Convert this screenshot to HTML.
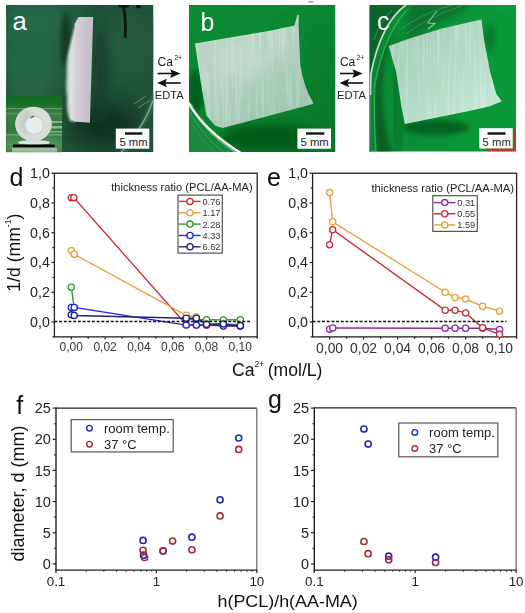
<!DOCTYPE html>
<html><head><meta charset="utf-8"><style>
html,body{margin:0;padding:0;background:#fff;}
body{width:525px;height:613px;overflow:hidden;}
svg{display:block;font-family:"Liberation Sans", sans-serif;filter:blur(0.35px);}
</style></head><body>
<svg width="525" height="613" viewBox="0 0 525 613">
<defs>
<clipPath id="cpa"><rect x="6" y="5" width="147.5" height="147"/></clipPath>
<clipPath id="cpb"><rect x="189" y="5" width="146.5" height="147"/></clipPath>
<clipPath id="cpc"><rect x="369.5" y="5" width="146.5" height="146.5"/></clipPath>
<clipPath id="cpi"><rect x="6.3" y="96" width="56" height="56.3"/></clipPath>
<filter id="bl05" x="-20%" y="-20%" width="140%" height="140%"><feGaussianBlur stdDeviation="0.5"/></filter>
<filter id="bl1" x="-20%" y="-20%" width="140%" height="140%"><feGaussianBlur stdDeviation="0.8"/></filter>
<filter id="bl2" x="-30%" y="-30%" width="160%" height="160%"><feGaussianBlur stdDeviation="2.5"/></filter>
<filter id="bl4" x="-50%" y="-50%" width="200%" height="200%"><feGaussianBlur stdDeviation="5"/></filter>
<filter id="bl8" x="-50%" y="-50%" width="200%" height="200%"><feGaussianBlur stdDeviation="9"/></filter>
<linearGradient id="ga" x1="0" y1="0" x2="1" y2="0">
 <stop offset="0" stop-color="#2a6c4a"/><stop offset="0.35" stop-color="#266244"/><stop offset="0.6" stop-color="#1f4e38"/><stop offset="1" stop-color="#26573f"/>
</linearGradient>
<linearGradient id="gslab" x1="0" y1="0" x2="1" y2="0">
 <stop offset="0" stop-color="#dad4da"/><stop offset="0.4" stop-color="#d0c8d2"/><stop offset="1" stop-color="#c2bac4"/>
</linearGradient>
<linearGradient id="gins" x1="0" y1="0" x2="0" y2="1">
 <stop offset="0" stop-color="#146a22"/><stop offset="0.16" stop-color="#187026"/><stop offset="0.3" stop-color="#3c7e48"/><stop offset="0.6" stop-color="#347a40"/><stop offset="0.85" stop-color="#4e9058"/><stop offset="1" stop-color="#42844a"/>
</linearGradient>
<linearGradient id="gb" x1="0" y1="0" x2="1" y2="1">
 <stop offset="0" stop-color="#0c8c34"/><stop offset="0.6" stop-color="#0a8430"/><stop offset="1" stop-color="#097428"/>
</linearGradient>
<linearGradient id="gsb" x1="0" y1="0" x2="0.6" y2="1">
 <stop offset="0" stop-color="#bcd8ca"/><stop offset="0.5" stop-color="#b4d2c2"/><stop offset="1" stop-color="#9cc6ae"/>
</linearGradient>
<linearGradient id="gc" x1="0" y1="0" x2="1" y2="0">
 <stop offset="0" stop-color="#0a8a36"/><stop offset="1" stop-color="#0a9a3a"/>
</linearGradient>
<linearGradient id="gsc" x1="0" y1="0" x2="1" y2="1">
 <stop offset="0" stop-color="#9ecab4"/><stop offset="0.55" stop-color="#b6dcc8"/><stop offset="1" stop-color="#cae8d8"/>
</linearGradient>
<filter id="fib" x="0" y="0" width="100%" height="100%">
 <feTurbulence type="fractalNoise" baseFrequency="0.35 0.015" numOctaves="2" seed="3" result="n"/>
 <feColorMatrix in="n" type="matrix" values="0 0 0 0 0.92  0 0 0 0 0.97  0 0 0 0 0.94  1.6 0 0 0 -0.75" result="w"/>
 <feComposite in="w" in2="SourceGraphic" operator="in"/>
</filter>
</defs>
<!-- photo a -->
<g clip-path="url(#cpa)">
 <rect x="6" y="5" width="147.5" height="147" fill="#1f5339"/>
 <ellipse cx="30" cy="55" rx="32" ry="60" fill="#26684a" opacity="0.9" filter="url(#bl8)"/>
 <ellipse cx="45" cy="20" rx="40" ry="18" fill="#27694a" opacity="0.8" filter="url(#bl8)"/>
 <ellipse cx="130" cy="45" rx="25" ry="35" fill="#255c42" opacity="0.8" filter="url(#bl8)"/>
 <ellipse cx="105" cy="125" rx="35" ry="22" fill="#10291b" opacity="0.8" filter="url(#bl8)"/>
 <ellipse cx="66" cy="40" rx="5" ry="28" fill="#143424" opacity="0.9" filter="url(#bl2)"/>
 <ellipse cx="100" cy="75" rx="7" ry="50" fill="#173d2c" opacity="0.8" filter="url(#bl4)"/>
 <path d="M154,95 Q148,125 120,156" stroke="#2e7050" stroke-width="6" fill="none" opacity="0.7" filter="url(#bl1)"/>
 <path d="M153,100 Q146,124 118,156" stroke="#9cb8a8" stroke-width="1.3" fill="none" opacity="0.8"/>
 <path d="M134,104 L146,96 M138,108 L150,100" stroke="#b0c8b8" stroke-width="0.9" fill="none" opacity="0.5"/>
 <path d="M66.5,75 Q66,58 69,48 L75,24 L74.5,122 L70,121 Q66,112 67,98 Q65.5,88 66.5,75 Z" fill="#ccd6d0" opacity="0.95" filter="url(#bl1)"/>
 <path d="M69.5,55 L75,28 L75,121 L70.5,119 Q68.5,90 69.5,55 Z" fill="#dde2de" opacity="0.9" filter="url(#bl05)"/>
 <polygon points="74.6,23.7 78.5,16.9 93.2,16.9 89.9,122.7 73.5,121.5" fill="url(#gslab)" filter="url(#bl05)"/>
 <path d="M119.5,6 L128,6 M123.6,6.5 Q126,20 125.2,37" stroke="#0c1410" stroke-width="2.8" fill="none" stroke-linecap="round" filter="url(#bl05)"/>
 <ellipse cx="138.5" cy="6.5" rx="2.5" ry="2" fill="#0c1410"/>
 <text x="12.4" y="30.1" font-size="25.5" fill="#fff">a</text>
</g>
<!-- inset -->
<g clip-path="url(#cpi)">
 <rect x="6" y="95" width="57" height="58" fill="url(#gins)"/>
 <g opacity="0.55">
 <rect x="6" y="108" width="57" height="1.2" fill="#8ab890"/>
 <rect x="6" y="113" width="57" height="1.5" fill="#6aa070"/>
 <rect x="40" y="121" width="23" height="2" fill="#c0e0c0"/>
 <rect x="40" y="126" width="23" height="2.5" fill="#d0ecd0"/>
 <rect x="40" y="131" width="23" height="1.6" fill="#b0d8b0"/>
 <rect x="6" y="134" width="57" height="1.6" fill="#90c090"/>
 <rect x="12" y="147.8" width="45" height="4" fill="#e0ece0"/>
 </g>
 <ellipse cx="34" cy="142.5" rx="16" ry="2.5" fill="#d8e4dc" filter="url(#bl05)"/>
 <ellipse cx="33.5" cy="124" rx="18.4" ry="17.2" fill="#d6ded8" filter="url(#bl05)"/>
 <ellipse cx="26" cy="122" rx="7" ry="12" fill="#b8c4bc" opacity="0.6" filter="url(#bl2)"/>
 <ellipse cx="34.2" cy="125.3" rx="9.4" ry="9.2" fill="#e8ece8" stroke="#c4ccc6" stroke-width="1" filter="url(#bl05)"/>
 <path d="M30.5,118 L34,116" stroke="#4a5a50" stroke-width="1.3" fill="none" filter="url(#bl05)"/>
 <rect x="12.9" y="144.5" width="41.9" height="2.7" fill="#080808"/>
 <rect x="62" y="95" width="2" height="58" fill="#143a24"/>
</g>
<rect x="115.8" y="128.6" width="33.5" height="20.1" fill="#fff"/>
<rect x="125" y="132.3" width="17.3" height="2.4" fill="#111"/>
<text x="119.4" y="145.8" font-size="10.3" fill="#222" textLength="28.3" lengthAdjust="spacingAndGlyphs">5 mm</text>
<rect x="308.6" y="1.2" width="4.7" height="1.3" fill="#8a8a8a"/>
<!-- photo b -->
<g clip-path="url(#cpb)">
 <rect x="189" y="5" width="146.5" height="147" fill="url(#gb)"/>
 <ellipse cx="270" cy="138" rx="50" ry="14" fill="#055218" opacity="0.8" filter="url(#bl4)"/>
 <ellipse cx="196" cy="92" rx="8" ry="22" fill="#065a1e" opacity="0.85" filter="url(#bl2)"/>
 <ellipse cx="318" cy="70" rx="8" ry="40" fill="#087a28" opacity="0.6" filter="url(#bl4)"/>
 <path d="M195,43.6 L230,37.5 L270,30.7 L294.6,25.6 L297.2,15 L298.8,14.7 L298.6,27 L300.3,65 Q304,88 312.7,101.7 L313,104 L270,115.5 L222.4,128 L215,125.5 L206.4,115.4 Q200,80 195,43.6 Z" fill="url(#gsb)" filter="url(#bl05)"/>
 <path d="M195,43.6 L230,37.5 L270,30.7 L294.6,25.6 L298.6,27 L300.3,65 Q304,88 312.7,101.7 L313,104 L270,115.5 L222.4,128 L215,125.5 L206.4,115.4 Q200,80 195,43.6 Z" fill="#000" filter="url(#fib)" opacity="0.5"/>
 <ellipse cx="240" cy="60" rx="25" ry="18" fill="#c6e0d2" opacity="0.5" filter="url(#bl4)"/>
 <path d="M186,92 L186,160 L250,160 Q200.5,128.4 186.5,99 Z" fill="#178a3c"/>
 <path d="M186,104 Q197,132 230,158" stroke="#5aa878" stroke-width="1" fill="none" opacity="0.6"/>
 <path d="M186,112 Q194,135 222,158" stroke="#4a9a68" stroke-width="1" fill="none" opacity="0.5"/>
 <path d="M190,104 Q204,130 236,152" stroke="#9ab8a4" stroke-width="3" fill="none" opacity="0.7"/>
 <path d="M186.5,99 Q200.5,128.4 244,155" stroke="#f4f8f4" stroke-width="2.2" fill="none"/>
 <text x="200.4" y="30.8" font-size="25" fill="#fff">b</text>
</g>
<rect x="297.4" y="128.6" width="33.6" height="20.2" fill="#fff"/>
<rect x="306" y="132.3" width="18.3" height="2.4" fill="#111"/>
<text x="300.5" y="145.8" font-size="10.3" fill="#222" textLength="28.3" lengthAdjust="spacingAndGlyphs">5 mm</text>
<!-- photo c -->
<g clip-path="url(#cpc)">
 <rect x="369.5" y="5" width="146.5" height="147" fill="url(#gc)"/>
 <path d="M369,5 L406,5 Q381,22.5 371,72 Q370,110 372,155 L369,155 Z" fill="#0b642a"/>
 <path d="M395,30 Q380,60 382,100 Q384,130 392,155 L376,155 Q374,110 376,80 Q380,50 395,30 Z" fill="#0a5a24" opacity="0.9" filter="url(#bl2)"/>
 <path d="M400,40 Q392,90 398,150" stroke="#0b6a2a" stroke-width="14" fill="none" opacity="0.6" filter="url(#bl4)"/>
 <path d="M406.5,4.5 Q381,22.5 371,73.4 Q370.4,85 370.6,95" stroke="#c8d6cc" stroke-width="1.7" fill="none"/>
 <path d="M370.6,95 Q370,120 371.5,155" stroke="#5a9a70" stroke-width="1.2" fill="none" opacity="0.6"/>
 <path d="M412.8,4.5 Q385,28 374.5,86 Q373.5,120 376,155" stroke="#22b04c" stroke-width="1.6" fill="none"/>
 <path d="M392,10 Q380,22 374,40" stroke="#6ab088" stroke-width="1" fill="none" opacity="0.5"/>
 <path d="M408,4 L472,4 Q460,16 440,22 Q420,30 408,42 Z" fill="#0b6e2e" opacity="0.8" filter="url(#bl2)"/>
 <path d="M400,30 Q420,14 452,5 M406,34 Q430,16 462,6" stroke="#7ab898" stroke-width="0.8" fill="none" opacity="0.45"/>
 <ellipse cx="490" cy="38" rx="5" ry="14" fill="#076a26" opacity="0.7" filter="url(#bl2)"/>
 <path d="M437,11 Q431,18 428,23 L435,23.5 L428,29" stroke="#d8e4dc" stroke-width="1.1" fill="none" opacity="0.65" filter="url(#bl05)"/>
 <ellipse cx="436" cy="127.5" rx="33" ry="7.5" fill="#065c1e" opacity="0.85" filter="url(#bl2)"/>
 <path d="M388.7,45.9 L409.7,38.5 L441.9,28.6 L479,19.9 L481.5,19.4 L484,39.7 L490.2,71.9 L496.4,94.2 L501.3,100.4 L501.3,101.6 L489,106.6 L466.7,111.5 L441.9,116.5 L404.8,123.9 L401,104.1 L396.1,71.9 Z" fill="url(#gsc)" filter="url(#bl05)"/>
 <path d="M388.7,45.9 L409.7,38.5 L441.9,28.6 L479,19.9 L481.5,19.4 L484,39.7 L490.2,71.9 L496.4,94.2 L501.3,100.4 L501.3,101.6 L489,106.6 L466.7,111.5 L441.9,116.5 L404.8,123.9 L401,104.1 L396.1,71.9 Z" fill="#000" filter="url(#fib)" opacity="0.5"/>
 <text x="376.9" y="29.8" font-size="25" fill="#fff">c</text>
</g>
<rect x="479.3" y="128.2" width="33.4" height="20.4" fill="#fff"/>
<rect x="487" y="148.6" width="29" height="2.6" fill="#b83a30"/>
<rect x="513" y="128.6" width="3" height="22" fill="#b83a30"/>
<rect x="487.5" y="132.3" width="18" height="2.4" fill="#111"/>
<text x="482.6" y="146" font-size="10.3" fill="#222" textLength="28.3" lengthAdjust="spacingAndGlyphs">5 mm</text>

<text x="157.6" y="66.2" font-size="12" fill="#222">Ca<tspan font-size="7" dx="1.2" dy="-6.2">2+</tspan></text>
<line x1="157.6" y1="73.5" x2="174.4" y2="73.5" stroke="#111" stroke-width="1.6"/>
<polygon points="170.0,69.3 180.4,73.5 170.0,77.9 172.0,73.5" fill="#111"/>
<line x1="164.4" y1="83" x2="180.70000000000002" y2="83" stroke="#111" stroke-width="1.6"/>
<polygon points="167.1,78.7 157.20000000000002,83 167.1,87.3 165.1,83" fill="#111"/>
<text x="154.8" y="98.9" font-size="10.8" fill="#222" textLength="28.8" lengthAdjust="spacingAndGlyphs">EDTA</text>
<text x="339.9" y="66.2" font-size="12" fill="#222">Ca<tspan font-size="7" dx="1.2" dy="-6.2">2+</tspan></text>
<line x1="339.9" y1="73.5" x2="356.7" y2="73.5" stroke="#111" stroke-width="1.6"/>
<polygon points="352.3,69.3 362.7,73.5 352.3,77.9 354.3,73.5" fill="#111"/>
<line x1="346.7" y1="83" x2="363.0" y2="83" stroke="#111" stroke-width="1.6"/>
<polygon points="349.4,78.7 339.5,83 349.4,87.3 347.4,83" fill="#111"/>
<text x="337.09999999999997" y="98.9" font-size="10.8" fill="#222" textLength="28.8" lengthAdjust="spacingAndGlyphs">EDTA</text>
<rect x="54.40" y="173.25" width="202.80" height="163.62" fill="none" stroke="#222" stroke-width="1.3"/>
<line x1="52.40" y1="336.88" x2="54.40" y2="336.88" stroke="#222" stroke-width="1.2"/>
<line x1="51.40" y1="322.00" x2="54.40" y2="322.00" stroke="#222" stroke-width="1.2"/>
<text x="49.80" y="326.80" font-size="14.2" text-anchor="end" fill="#222">0,0</text>
<line x1="52.40" y1="307.12" x2="54.40" y2="307.12" stroke="#222" stroke-width="1.2"/>
<line x1="51.40" y1="292.25" x2="54.40" y2="292.25" stroke="#222" stroke-width="1.2"/>
<text x="49.80" y="297.05" font-size="14.2" text-anchor="end" fill="#222">0,2</text>
<line x1="52.40" y1="277.38" x2="54.40" y2="277.38" stroke="#222" stroke-width="1.2"/>
<line x1="51.40" y1="262.50" x2="54.40" y2="262.50" stroke="#222" stroke-width="1.2"/>
<text x="49.80" y="267.30" font-size="14.2" text-anchor="end" fill="#222">0,4</text>
<line x1="52.40" y1="247.62" x2="54.40" y2="247.62" stroke="#222" stroke-width="1.2"/>
<line x1="51.40" y1="232.75" x2="54.40" y2="232.75" stroke="#222" stroke-width="1.2"/>
<text x="49.80" y="237.55" font-size="14.2" text-anchor="end" fill="#222">0,6</text>
<line x1="52.40" y1="217.88" x2="54.40" y2="217.88" stroke="#222" stroke-width="1.2"/>
<line x1="51.40" y1="203.00" x2="54.40" y2="203.00" stroke="#222" stroke-width="1.2"/>
<text x="49.80" y="207.80" font-size="14.2" text-anchor="end" fill="#222">0,8</text>
<line x1="52.40" y1="188.12" x2="54.40" y2="188.12" stroke="#222" stroke-width="1.2"/>
<line x1="51.40" y1="173.25" x2="54.40" y2="173.25" stroke="#222" stroke-width="1.2"/>
<text x="49.80" y="178.05" font-size="14.2" text-anchor="end" fill="#222">1,0</text>
<line x1="71.30" y1="336.88" x2="71.30" y2="339.48" stroke="#222" stroke-width="1.2"/>
<text x="71.30" y="351.48" font-size="12" text-anchor="middle" fill="#333">0,00</text>
<line x1="88.20" y1="336.88" x2="88.20" y2="338.68" stroke="#222" stroke-width="1.2"/>
<line x1="105.10" y1="336.88" x2="105.10" y2="339.48" stroke="#222" stroke-width="1.2"/>
<text x="105.10" y="351.48" font-size="12" text-anchor="middle" fill="#333">0,02</text>
<line x1="122.00" y1="336.88" x2="122.00" y2="338.68" stroke="#222" stroke-width="1.2"/>
<line x1="138.90" y1="336.88" x2="138.90" y2="339.48" stroke="#222" stroke-width="1.2"/>
<text x="138.90" y="351.48" font-size="12" text-anchor="middle" fill="#333">0,04</text>
<line x1="155.80" y1="336.88" x2="155.80" y2="338.68" stroke="#222" stroke-width="1.2"/>
<line x1="172.70" y1="336.88" x2="172.70" y2="339.48" stroke="#222" stroke-width="1.2"/>
<text x="172.70" y="351.48" font-size="12" text-anchor="middle" fill="#333">0,06</text>
<line x1="189.60" y1="336.88" x2="189.60" y2="338.68" stroke="#222" stroke-width="1.2"/>
<line x1="206.50" y1="336.88" x2="206.50" y2="339.48" stroke="#222" stroke-width="1.2"/>
<text x="206.50" y="351.48" font-size="12" text-anchor="middle" fill="#333">0,08</text>
<line x1="223.40" y1="336.88" x2="223.40" y2="338.68" stroke="#222" stroke-width="1.2"/>
<line x1="240.30" y1="336.88" x2="240.30" y2="339.48" stroke="#222" stroke-width="1.2"/>
<text x="240.30" y="351.48" font-size="12" text-anchor="middle" fill="#333">0,10</text>
<line x1="257.20" y1="336.88" x2="257.20" y2="338.68" stroke="#222" stroke-width="1.2"/>
<polyline points="71.30,197.65 73.83,197.65 186.22,324.68 196.36,324.98 206.50,325.27 223.40,325.72 240.30,325.72" fill="none" stroke="#cc2c36" stroke-width="1.4"/>
<circle cx="71.30" cy="197.65" r="3.1" fill="#fff" stroke="#cc2c36" stroke-width="1.3"/>
<circle cx="73.83" cy="197.65" r="3.1" fill="#fff" stroke="#cc2c36" stroke-width="1.3"/>
<circle cx="186.22" cy="324.68" r="3.1" fill="#fff" stroke="#cc2c36" stroke-width="1.3"/>
<circle cx="196.36" cy="324.98" r="3.1" fill="#fff" stroke="#cc2c36" stroke-width="1.3"/>
<circle cx="206.50" cy="325.27" r="3.1" fill="#fff" stroke="#cc2c36" stroke-width="1.3"/>
<circle cx="223.40" cy="325.72" r="3.1" fill="#fff" stroke="#cc2c36" stroke-width="1.3"/>
<circle cx="240.30" cy="325.72" r="3.1" fill="#fff" stroke="#cc2c36" stroke-width="1.3"/>
<polyline points="71.30,250.60 74.17,254.32 186.22,315.31 196.36,316.79 206.50,324.23 223.40,324.23 240.30,324.23" fill="none" stroke="#e8a03a" stroke-width="1.4"/>
<circle cx="71.30" cy="250.60" r="3.1" fill="#fff" stroke="#e8a03a" stroke-width="1.3"/>
<circle cx="74.17" cy="254.32" r="3.1" fill="#fff" stroke="#e8a03a" stroke-width="1.3"/>
<circle cx="186.22" cy="315.31" r="3.1" fill="#fff" stroke="#e8a03a" stroke-width="1.3"/>
<circle cx="196.36" cy="316.79" r="3.1" fill="#fff" stroke="#e8a03a" stroke-width="1.3"/>
<circle cx="206.50" cy="324.23" r="3.1" fill="#fff" stroke="#e8a03a" stroke-width="1.3"/>
<circle cx="223.40" cy="324.23" r="3.1" fill="#fff" stroke="#e8a03a" stroke-width="1.3"/>
<circle cx="240.30" cy="324.23" r="3.1" fill="#fff" stroke="#e8a03a" stroke-width="1.3"/>
<polyline points="71.30,287.19 74.17,307.42" fill="none" stroke="#2c9a2c" stroke-width="1.4"/>
<circle cx="71.30" cy="287.19" r="3.1" fill="#fff" stroke="#2c9a2c" stroke-width="1.3"/>
<circle cx="74.17" cy="307.42" r="3.1" fill="#fff" stroke="#2c9a2c" stroke-width="1.3"/>
<polyline points="186.22,319.02 196.36,319.62 206.50,319.77 223.40,319.92 240.30,319.77" fill="none" stroke="#2c9a2c" stroke-width="1.4"/>
<circle cx="186.22" cy="319.02" r="3.1" fill="#fff" stroke="#2c9a2c" stroke-width="1.3"/>
<circle cx="196.36" cy="319.62" r="3.1" fill="#fff" stroke="#2c9a2c" stroke-width="1.3"/>
<circle cx="206.50" cy="319.77" r="3.1" fill="#fff" stroke="#2c9a2c" stroke-width="1.3"/>
<circle cx="223.40" cy="319.92" r="3.1" fill="#fff" stroke="#2c9a2c" stroke-width="1.3"/>
<circle cx="240.30" cy="319.77" r="3.1" fill="#fff" stroke="#2c9a2c" stroke-width="1.3"/>
<polyline points="71.30,307.42 74.17,307.42 186.22,325.12 196.36,325.12 206.50,324.53 223.40,326.02 240.30,326.02" fill="none" stroke="#2828d0" stroke-width="1.4"/>
<circle cx="71.30" cy="307.42" r="3.1" fill="#fff" stroke="#2828d0" stroke-width="1.3"/>
<circle cx="74.17" cy="307.42" r="3.1" fill="#fff" stroke="#2828d0" stroke-width="1.3"/>
<circle cx="186.22" cy="325.12" r="3.1" fill="#fff" stroke="#2828d0" stroke-width="1.3"/>
<circle cx="196.36" cy="325.12" r="3.1" fill="#fff" stroke="#2828d0" stroke-width="1.3"/>
<circle cx="206.50" cy="324.53" r="3.1" fill="#fff" stroke="#2828d0" stroke-width="1.3"/>
<circle cx="223.40" cy="326.02" r="3.1" fill="#fff" stroke="#2828d0" stroke-width="1.3"/>
<circle cx="240.30" cy="326.02" r="3.1" fill="#fff" stroke="#2828d0" stroke-width="1.3"/>
<polyline points="71.30,314.86 74.17,315.45 186.22,318.28 196.36,318.28 206.50,324.23 223.40,323.93 240.30,325.72" fill="none" stroke="#22227a" stroke-width="1.4"/>
<circle cx="71.30" cy="314.86" r="3.1" fill="#fff" stroke="#22227a" stroke-width="1.3"/>
<circle cx="74.17" cy="315.45" r="3.1" fill="#fff" stroke="#22227a" stroke-width="1.3"/>
<circle cx="186.22" cy="318.28" r="3.1" fill="#fff" stroke="#22227a" stroke-width="1.3"/>
<circle cx="196.36" cy="318.28" r="3.1" fill="#fff" stroke="#22227a" stroke-width="1.3"/>
<circle cx="206.50" cy="324.23" r="3.1" fill="#fff" stroke="#22227a" stroke-width="1.3"/>
<circle cx="223.40" cy="323.93" r="3.1" fill="#fff" stroke="#22227a" stroke-width="1.3"/>
<circle cx="240.30" cy="325.72" r="3.1" fill="#fff" stroke="#22227a" stroke-width="1.3"/>
<line x1="54.40" y1="321.50" x2="250.50" y2="321.50" stroke="#111" stroke-width="1.7" stroke-dasharray="2.9 1.8"/>
<text x="111.20" y="191.40" font-size="11.6" fill="#222" textLength="141.5" lengthAdjust="spacingAndGlyphs">thickness ratio (PCL/AA-MA)</text>
<rect x="178" y="195.1" width="44.3" height="58" fill="#fff" stroke="#555" stroke-width="1.2"/>
<line x1="178.9" y1="201.40" x2="200.6" y2="201.40" stroke="#cc2c36" stroke-width="1.4"/>
<circle cx="190" cy="201.40" r="3.1" fill="#fff" stroke="#cc2c36" stroke-width="1.3"/>
<text x="202.5" y="204.90" font-size="9.9" fill="#333" textLength="17.9" lengthAdjust="spacingAndGlyphs">0.76</text>
<line x1="178.9" y1="212.75" x2="200.6" y2="212.75" stroke="#e8a03a" stroke-width="1.4"/>
<circle cx="190" cy="212.75" r="3.1" fill="#fff" stroke="#e8a03a" stroke-width="1.3"/>
<text x="202.5" y="216.25" font-size="9.9" fill="#333" textLength="17.9" lengthAdjust="spacingAndGlyphs">1.17</text>
<line x1="178.9" y1="224.10" x2="200.6" y2="224.10" stroke="#2c9a2c" stroke-width="1.4"/>
<circle cx="190" cy="224.10" r="3.1" fill="#fff" stroke="#2c9a2c" stroke-width="1.3"/>
<text x="202.5" y="227.60" font-size="9.9" fill="#333" textLength="17.9" lengthAdjust="spacingAndGlyphs">2.28</text>
<line x1="178.9" y1="235.45" x2="200.6" y2="235.45" stroke="#2828d0" stroke-width="1.4"/>
<circle cx="190" cy="235.45" r="3.1" fill="#fff" stroke="#2828d0" stroke-width="1.3"/>
<text x="202.5" y="238.95" font-size="9.9" fill="#333" textLength="17.9" lengthAdjust="spacingAndGlyphs">4.33</text>
<line x1="178.9" y1="246.80" x2="200.6" y2="246.80" stroke="#22227a" stroke-width="1.4"/>
<circle cx="190" cy="246.80" r="3.1" fill="#fff" stroke="#22227a" stroke-width="1.3"/>
<text x="202.5" y="250.30" font-size="9.9" fill="#333" textLength="17.9" lengthAdjust="spacingAndGlyphs">6.62</text>
<text x="9.5" y="185.7" font-size="25" fill="#111">d</text>
<rect x="312.60" y="173.25" width="204.00" height="163.62" fill="none" stroke="#222" stroke-width="1.3"/>
<line x1="310.60" y1="336.88" x2="312.60" y2="336.88" stroke="#222" stroke-width="1.2"/>
<line x1="309.60" y1="322.00" x2="312.60" y2="322.00" stroke="#222" stroke-width="1.2"/>
<text x="308.00" y="326.80" font-size="14.2" text-anchor="end" fill="#222">0,0</text>
<line x1="310.60" y1="307.12" x2="312.60" y2="307.12" stroke="#222" stroke-width="1.2"/>
<line x1="309.60" y1="292.25" x2="312.60" y2="292.25" stroke="#222" stroke-width="1.2"/>
<text x="308.00" y="297.05" font-size="14.2" text-anchor="end" fill="#222">0,2</text>
<line x1="310.60" y1="277.38" x2="312.60" y2="277.38" stroke="#222" stroke-width="1.2"/>
<line x1="309.60" y1="262.50" x2="312.60" y2="262.50" stroke="#222" stroke-width="1.2"/>
<text x="308.00" y="267.30" font-size="14.2" text-anchor="end" fill="#222">0,4</text>
<line x1="310.60" y1="247.62" x2="312.60" y2="247.62" stroke="#222" stroke-width="1.2"/>
<line x1="309.60" y1="232.75" x2="312.60" y2="232.75" stroke="#222" stroke-width="1.2"/>
<text x="308.00" y="237.55" font-size="14.2" text-anchor="end" fill="#222">0,6</text>
<line x1="310.60" y1="217.88" x2="312.60" y2="217.88" stroke="#222" stroke-width="1.2"/>
<line x1="309.60" y1="203.00" x2="312.60" y2="203.00" stroke="#222" stroke-width="1.2"/>
<text x="308.00" y="207.80" font-size="14.2" text-anchor="end" fill="#222">0,8</text>
<line x1="310.60" y1="188.12" x2="312.60" y2="188.12" stroke="#222" stroke-width="1.2"/>
<line x1="309.60" y1="173.25" x2="312.60" y2="173.25" stroke="#222" stroke-width="1.2"/>
<text x="308.00" y="178.05" font-size="14.2" text-anchor="end" fill="#222">1,0</text>
<line x1="329.60" y1="336.88" x2="329.60" y2="339.48" stroke="#222" stroke-width="1.2"/>
<text x="329.60" y="353.48" font-size="13.9" text-anchor="middle" fill="#333">0,00</text>
<line x1="346.60" y1="336.88" x2="346.60" y2="338.68" stroke="#222" stroke-width="1.2"/>
<line x1="363.60" y1="336.88" x2="363.60" y2="339.48" stroke="#222" stroke-width="1.2"/>
<text x="363.60" y="353.48" font-size="13.9" text-anchor="middle" fill="#333">0,02</text>
<line x1="380.60" y1="336.88" x2="380.60" y2="338.68" stroke="#222" stroke-width="1.2"/>
<line x1="397.60" y1="336.88" x2="397.60" y2="339.48" stroke="#222" stroke-width="1.2"/>
<text x="397.60" y="353.48" font-size="13.9" text-anchor="middle" fill="#333">0,04</text>
<line x1="414.60" y1="336.88" x2="414.60" y2="338.68" stroke="#222" stroke-width="1.2"/>
<line x1="431.60" y1="336.88" x2="431.60" y2="339.48" stroke="#222" stroke-width="1.2"/>
<text x="431.60" y="353.48" font-size="13.9" text-anchor="middle" fill="#333">0,06</text>
<line x1="448.60" y1="336.88" x2="448.60" y2="338.68" stroke="#222" stroke-width="1.2"/>
<line x1="465.60" y1="336.88" x2="465.60" y2="339.48" stroke="#222" stroke-width="1.2"/>
<text x="465.60" y="353.48" font-size="13.9" text-anchor="middle" fill="#333">0,08</text>
<line x1="482.60" y1="336.88" x2="482.60" y2="338.68" stroke="#222" stroke-width="1.2"/>
<line x1="499.60" y1="336.88" x2="499.60" y2="339.48" stroke="#222" stroke-width="1.2"/>
<text x="499.60" y="353.48" font-size="13.9" text-anchor="middle" fill="#333">0,10</text>
<line x1="516.60" y1="336.88" x2="516.60" y2="338.68" stroke="#222" stroke-width="1.2"/>
<polyline points="329.60,329.14 332.66,327.95 445.20,328.25 455.06,328.25 465.60,328.25 482.60,328.25 499.60,329.44" fill="none" stroke="#8c2c9c" stroke-width="1.4"/>
<circle cx="329.60" cy="329.14" r="3.1" fill="#fff" stroke="#8c2c9c" stroke-width="1.3"/>
<circle cx="332.66" cy="327.95" r="3.1" fill="#fff" stroke="#8c2c9c" stroke-width="1.3"/>
<circle cx="445.20" cy="328.25" r="3.1" fill="#fff" stroke="#8c2c9c" stroke-width="1.3"/>
<circle cx="455.06" cy="328.25" r="3.1" fill="#fff" stroke="#8c2c9c" stroke-width="1.3"/>
<circle cx="465.60" cy="328.25" r="3.1" fill="#fff" stroke="#8c2c9c" stroke-width="1.3"/>
<circle cx="482.60" cy="328.25" r="3.1" fill="#fff" stroke="#8c2c9c" stroke-width="1.3"/>
<circle cx="499.60" cy="329.44" r="3.1" fill="#fff" stroke="#8c2c9c" stroke-width="1.3"/>
<polyline points="329.60,244.65 332.66,229.78 445.20,310.25 455.06,310.25 465.60,312.93 482.60,327.80 499.60,334.35" fill="none" stroke="#cc2c36" stroke-width="1.4"/>
<circle cx="329.60" cy="244.65" r="3.1" fill="#fff" stroke="#cc2c36" stroke-width="1.3"/>
<circle cx="332.66" cy="229.78" r="3.1" fill="#fff" stroke="#cc2c36" stroke-width="1.3"/>
<circle cx="445.20" cy="310.25" r="3.1" fill="#fff" stroke="#cc2c36" stroke-width="1.3"/>
<circle cx="455.06" cy="310.25" r="3.1" fill="#fff" stroke="#cc2c36" stroke-width="1.3"/>
<circle cx="465.60" cy="312.93" r="3.1" fill="#fff" stroke="#cc2c36" stroke-width="1.3"/>
<circle cx="482.60" cy="327.80" r="3.1" fill="#fff" stroke="#cc2c36" stroke-width="1.3"/>
<circle cx="499.60" cy="334.35" r="3.1" fill="#fff" stroke="#cc2c36" stroke-width="1.3"/>
<polyline points="329.60,192.59 332.66,221.74 445.20,292.25 455.06,297.46 465.60,299.09 482.60,306.23 499.60,311.14" fill="none" stroke="#e8a03a" stroke-width="1.4"/>
<circle cx="329.60" cy="192.59" r="3.1" fill="#fff" stroke="#e8a03a" stroke-width="1.3"/>
<circle cx="332.66" cy="221.74" r="3.1" fill="#fff" stroke="#e8a03a" stroke-width="1.3"/>
<circle cx="445.20" cy="292.25" r="3.1" fill="#fff" stroke="#e8a03a" stroke-width="1.3"/>
<circle cx="455.06" cy="297.46" r="3.1" fill="#fff" stroke="#e8a03a" stroke-width="1.3"/>
<circle cx="465.60" cy="299.09" r="3.1" fill="#fff" stroke="#e8a03a" stroke-width="1.3"/>
<circle cx="482.60" cy="306.23" r="3.1" fill="#fff" stroke="#e8a03a" stroke-width="1.3"/>
<circle cx="499.60" cy="311.14" r="3.1" fill="#fff" stroke="#e8a03a" stroke-width="1.3"/>
<line x1="312.60" y1="321.50" x2="506.60" y2="321.50" stroke="#111" stroke-width="1.7" stroke-dasharray="2.9 1.8"/>
<text x="371.50" y="191.80" font-size="11.6" fill="#222" textLength="142.5" lengthAdjust="spacingAndGlyphs">thickness ratio (PCL/AA-MA)</text>
<rect x="432.8" y="195.7" width="44.5" height="35.7" fill="#fff" stroke="#555" stroke-width="1.2"/>
<line x1="433.7" y1="202.60" x2="455.40000000000003" y2="202.60" stroke="#8c2c9c" stroke-width="1.4"/>
<circle cx="444.8" cy="202.60" r="3.1" fill="#fff" stroke="#8c2c9c" stroke-width="1.3"/>
<text x="457.3" y="206.10" font-size="9.9" fill="#333" textLength="17.9" lengthAdjust="spacingAndGlyphs">0.31</text>
<line x1="433.7" y1="213.75" x2="455.40000000000003" y2="213.75" stroke="#cc2c36" stroke-width="1.4"/>
<circle cx="444.8" cy="213.75" r="3.1" fill="#fff" stroke="#cc2c36" stroke-width="1.3"/>
<text x="457.3" y="217.25" font-size="9.9" fill="#333" textLength="17.9" lengthAdjust="spacingAndGlyphs">0.55</text>
<line x1="433.7" y1="224.90" x2="455.40000000000003" y2="224.90" stroke="#e8a03a" stroke-width="1.4"/>
<circle cx="444.8" cy="224.90" r="3.1" fill="#fff" stroke="#e8a03a" stroke-width="1.3"/>
<text x="457.3" y="228.40" font-size="9.9" fill="#333" textLength="17.9" lengthAdjust="spacingAndGlyphs">1.59</text>
<text x="267.1" y="186.0" font-size="25" fill="#111">e</text>
<text x="232.1" y="375.7" font-size="17.6" fill="#111">Ca<tspan font-size="8.5" dy="-8.8">2+</tspan><tspan dy="8.8" dx="-1.5"> (mol/L)</tspan></text>
<text transform="translate(20.2,291.7) rotate(-90)" font-size="17.6" fill="#111">1/d (mm<tspan font-size="8.5" dy="-8.8">-1</tspan><tspan dy="8.8">)</tspan></text>
<line x1="56.00" y1="408.10" x2="256.80" y2="408.10" stroke="#222" stroke-width="1.3"/>
<line x1="256.80" y1="408.10" x2="256.80" y2="570.13" stroke="#666" stroke-width="1.2"/>
<line x1="56.00" y1="407.50" x2="56.00" y2="570.73" stroke="#222" stroke-width="1.4"/>
<line x1="55.40" y1="570.13" x2="257.40" y2="570.13" stroke="#222" stroke-width="1.4"/>
<line x1="52.70" y1="563.90" x2="56.00" y2="563.90" stroke="#222" stroke-width="1.2"/>
<text x="50.80" y="569.10" font-size="14.5" text-anchor="end" fill="#222">0</text>
<line x1="52.70" y1="532.74" x2="56.00" y2="532.74" stroke="#222" stroke-width="1.2"/>
<text x="50.80" y="537.94" font-size="14.5" text-anchor="end" fill="#222">5</text>
<line x1="52.70" y1="501.58" x2="56.00" y2="501.58" stroke="#222" stroke-width="1.2"/>
<text x="50.80" y="506.78" font-size="14.5" text-anchor="end" fill="#222">10</text>
<line x1="52.70" y1="470.42" x2="56.00" y2="470.42" stroke="#222" stroke-width="1.2"/>
<text x="50.80" y="475.62" font-size="14.5" text-anchor="end" fill="#222">15</text>
<line x1="52.70" y1="439.26" x2="56.00" y2="439.26" stroke="#222" stroke-width="1.2"/>
<text x="50.80" y="444.46" font-size="14.5" text-anchor="end" fill="#222">20</text>
<line x1="52.70" y1="408.10" x2="56.00" y2="408.10" stroke="#222" stroke-width="1.2"/>
<text x="50.80" y="413.30" font-size="14.5" text-anchor="end" fill="#222">25</text>
<line x1="54.20" y1="548.32" x2="56.00" y2="548.32" stroke="#222" stroke-width="1.1"/>
<line x1="54.20" y1="517.16" x2="56.00" y2="517.16" stroke="#222" stroke-width="1.1"/>
<line x1="54.20" y1="486.00" x2="56.00" y2="486.00" stroke="#222" stroke-width="1.1"/>
<line x1="54.20" y1="454.84" x2="56.00" y2="454.84" stroke="#222" stroke-width="1.1"/>
<line x1="54.20" y1="423.68" x2="56.00" y2="423.68" stroke="#222" stroke-width="1.1"/>
<line x1="56.00" y1="570.13" x2="56.00" y2="572.93" stroke="#222" stroke-width="1.2"/>
<text x="56.00" y="586.33" font-size="13.3" text-anchor="middle" fill="#222">0.1</text>
<line x1="156.40" y1="570.13" x2="156.40" y2="572.93" stroke="#222" stroke-width="1.2"/>
<text x="156.40" y="586.33" font-size="13.3" text-anchor="middle" fill="#222">1</text>
<line x1="256.80" y1="570.13" x2="256.80" y2="572.93" stroke="#222" stroke-width="1.2"/>
<text x="256.80" y="586.33" font-size="13.3" text-anchor="middle" fill="#222">10</text>
<line x1="86.22" y1="570.13" x2="86.22" y2="571.73" stroke="#222" stroke-width="1.0"/>
<line x1="103.90" y1="570.13" x2="103.90" y2="571.73" stroke="#222" stroke-width="1.0"/>
<line x1="116.45" y1="570.13" x2="116.45" y2="571.73" stroke="#222" stroke-width="1.0"/>
<line x1="126.18" y1="570.13" x2="126.18" y2="571.73" stroke="#222" stroke-width="1.0"/>
<line x1="134.13" y1="570.13" x2="134.13" y2="571.73" stroke="#222" stroke-width="1.0"/>
<line x1="140.85" y1="570.13" x2="140.85" y2="571.73" stroke="#222" stroke-width="1.0"/>
<line x1="146.67" y1="570.13" x2="146.67" y2="571.73" stroke="#222" stroke-width="1.0"/>
<line x1="151.81" y1="570.13" x2="151.81" y2="571.73" stroke="#222" stroke-width="1.0"/>
<line x1="186.62" y1="570.13" x2="186.62" y2="571.73" stroke="#222" stroke-width="1.0"/>
<line x1="204.30" y1="570.13" x2="204.30" y2="571.73" stroke="#222" stroke-width="1.0"/>
<line x1="216.85" y1="570.13" x2="216.85" y2="571.73" stroke="#222" stroke-width="1.0"/>
<line x1="226.58" y1="570.13" x2="226.58" y2="571.73" stroke="#222" stroke-width="1.0"/>
<line x1="234.53" y1="570.13" x2="234.53" y2="571.73" stroke="#222" stroke-width="1.0"/>
<line x1="241.25" y1="570.13" x2="241.25" y2="571.73" stroke="#222" stroke-width="1.0"/>
<line x1="247.07" y1="570.13" x2="247.07" y2="571.73" stroke="#222" stroke-width="1.0"/>
<line x1="252.21" y1="570.13" x2="252.21" y2="571.73" stroke="#222" stroke-width="1.0"/>
<circle cx="143.10" cy="540.40" r="3.05" fill="none" stroke="#2424c4" stroke-width="1.6"/>
<circle cx="143.60" cy="555.20" r="3.05" fill="none" stroke="#2424c4" stroke-width="1.6"/>
<circle cx="163.10" cy="550.90" r="3.05" fill="none" stroke="#2424c4" stroke-width="1.6"/>
<circle cx="191.90" cy="537.20" r="3.05" fill="none" stroke="#2424c4" stroke-width="1.6"/>
<circle cx="220.10" cy="499.80" r="3.05" fill="none" stroke="#2424c4" stroke-width="1.6"/>
<circle cx="238.70" cy="438.00" r="3.05" fill="none" stroke="#2424c4" stroke-width="1.6"/>
<circle cx="143.10" cy="550.30" r="3.05" fill="none" stroke="#a42c38" stroke-width="1.6"/>
<circle cx="144.50" cy="557.50" r="3.05" fill="none" stroke="#a42c38" stroke-width="1.6"/>
<circle cx="163.10" cy="550.90" r="3.05" fill="none" stroke="#a42c38" stroke-width="1.6"/>
<circle cx="172.60" cy="541.10" r="3.05" fill="none" stroke="#a42c38" stroke-width="1.6"/>
<circle cx="191.90" cy="549.80" r="3.05" fill="none" stroke="#a42c38" stroke-width="1.6"/>
<circle cx="220.10" cy="515.90" r="3.05" fill="none" stroke="#a42c38" stroke-width="1.6"/>
<circle cx="238.70" cy="449.40" r="3.05" fill="none" stroke="#a42c38" stroke-width="1.6"/>
<rect x="71.2" y="419.6" width="102" height="32.3" fill="#fff" stroke="#555" stroke-width="1.2"/>
<circle cx="89.5" cy="428.20000000000005" r="2.8" fill="none" stroke="#2a2ac0" stroke-width="1.4"/>
<circle cx="89.5" cy="444.20000000000005" r="2.8" fill="none" stroke="#a43040" stroke-width="1.4"/>
<text x="104.0" y="432.70000000000005" font-size="13" fill="#222">room temp.</text>
<text x="104.0" y="448.90000000000003" font-size="13" fill="#222">37 °C</text>
<text x="16.2" y="413.6" font-size="25" fill="#111">f</text>
<line x1="314.30" y1="407.80" x2="516.10" y2="407.80" stroke="#222" stroke-width="1.3"/>
<line x1="516.10" y1="407.80" x2="516.10" y2="570.13" stroke="#666" stroke-width="1.2"/>
<line x1="314.30" y1="407.20" x2="314.30" y2="570.73" stroke="#222" stroke-width="1.4"/>
<line x1="313.70" y1="570.13" x2="516.70" y2="570.13" stroke="#222" stroke-width="1.4"/>
<line x1="311.00" y1="563.90" x2="314.30" y2="563.90" stroke="#222" stroke-width="1.2"/>
<text x="309.10" y="569.10" font-size="14.5" text-anchor="end" fill="#222">0</text>
<line x1="311.00" y1="532.74" x2="314.30" y2="532.74" stroke="#222" stroke-width="1.2"/>
<text x="309.10" y="537.94" font-size="14.5" text-anchor="end" fill="#222">5</text>
<line x1="311.00" y1="501.58" x2="314.30" y2="501.58" stroke="#222" stroke-width="1.2"/>
<text x="309.10" y="506.78" font-size="14.5" text-anchor="end" fill="#222">10</text>
<line x1="311.00" y1="470.42" x2="314.30" y2="470.42" stroke="#222" stroke-width="1.2"/>
<text x="309.10" y="475.62" font-size="14.5" text-anchor="end" fill="#222">15</text>
<line x1="311.00" y1="439.26" x2="314.30" y2="439.26" stroke="#222" stroke-width="1.2"/>
<text x="309.10" y="444.46" font-size="14.5" text-anchor="end" fill="#222">20</text>
<line x1="311.00" y1="408.10" x2="314.30" y2="408.10" stroke="#222" stroke-width="1.2"/>
<text x="309.10" y="413.30" font-size="14.5" text-anchor="end" fill="#222">25</text>
<line x1="312.50" y1="548.32" x2="314.30" y2="548.32" stroke="#222" stroke-width="1.1"/>
<line x1="312.50" y1="517.16" x2="314.30" y2="517.16" stroke="#222" stroke-width="1.1"/>
<line x1="312.50" y1="486.00" x2="314.30" y2="486.00" stroke="#222" stroke-width="1.1"/>
<line x1="312.50" y1="454.84" x2="314.30" y2="454.84" stroke="#222" stroke-width="1.1"/>
<line x1="312.50" y1="423.68" x2="314.30" y2="423.68" stroke="#222" stroke-width="1.1"/>
<line x1="314.30" y1="570.13" x2="314.30" y2="572.93" stroke="#222" stroke-width="1.2"/>
<text x="314.30" y="586.33" font-size="13.3" text-anchor="middle" fill="#222">0.1</text>
<line x1="415.20" y1="570.13" x2="415.20" y2="572.93" stroke="#222" stroke-width="1.2"/>
<text x="415.20" y="586.33" font-size="13.3" text-anchor="middle" fill="#222">1</text>
<line x1="516.10" y1="570.13" x2="516.10" y2="572.93" stroke="#222" stroke-width="1.2"/>
<text x="516.10" y="586.33" font-size="13.3" text-anchor="middle" fill="#222">10</text>
<line x1="344.67" y1="570.13" x2="344.67" y2="571.73" stroke="#222" stroke-width="1.0"/>
<line x1="362.44" y1="570.13" x2="362.44" y2="571.73" stroke="#222" stroke-width="1.0"/>
<line x1="375.05" y1="570.13" x2="375.05" y2="571.73" stroke="#222" stroke-width="1.0"/>
<line x1="384.83" y1="570.13" x2="384.83" y2="571.73" stroke="#222" stroke-width="1.0"/>
<line x1="392.82" y1="570.13" x2="392.82" y2="571.73" stroke="#222" stroke-width="1.0"/>
<line x1="399.57" y1="570.13" x2="399.57" y2="571.73" stroke="#222" stroke-width="1.0"/>
<line x1="405.42" y1="570.13" x2="405.42" y2="571.73" stroke="#222" stroke-width="1.0"/>
<line x1="410.58" y1="570.13" x2="410.58" y2="571.73" stroke="#222" stroke-width="1.0"/>
<line x1="445.57" y1="570.13" x2="445.57" y2="571.73" stroke="#222" stroke-width="1.0"/>
<line x1="463.34" y1="570.13" x2="463.34" y2="571.73" stroke="#222" stroke-width="1.0"/>
<line x1="475.95" y1="570.13" x2="475.95" y2="571.73" stroke="#222" stroke-width="1.0"/>
<line x1="485.73" y1="570.13" x2="485.73" y2="571.73" stroke="#222" stroke-width="1.0"/>
<line x1="493.72" y1="570.13" x2="493.72" y2="571.73" stroke="#222" stroke-width="1.0"/>
<line x1="500.47" y1="570.13" x2="500.47" y2="571.73" stroke="#222" stroke-width="1.0"/>
<line x1="506.32" y1="570.13" x2="506.32" y2="571.73" stroke="#222" stroke-width="1.0"/>
<line x1="511.48" y1="570.13" x2="511.48" y2="571.73" stroke="#222" stroke-width="1.0"/>
<circle cx="363.90" cy="429.10" r="3.05" fill="none" stroke="#2424c4" stroke-width="1.6"/>
<circle cx="368.20" cy="444.10" r="3.05" fill="none" stroke="#2424c4" stroke-width="1.6"/>
<circle cx="388.70" cy="556.20" r="3.05" fill="none" stroke="#2424c4" stroke-width="1.6"/>
<circle cx="435.60" cy="557.20" r="3.05" fill="none" stroke="#2424c4" stroke-width="1.6"/>
<circle cx="363.90" cy="541.50" r="3.05" fill="none" stroke="#a42c38" stroke-width="1.6"/>
<circle cx="368.20" cy="553.70" r="3.05" fill="none" stroke="#a42c38" stroke-width="1.6"/>
<circle cx="388.70" cy="559.70" r="3.05" fill="none" stroke="#a42c38" stroke-width="1.6"/>
<circle cx="435.60" cy="562.50" r="3.05" fill="none" stroke="#a42c38" stroke-width="1.6"/>
<rect x="398.8" y="423.0" width="99" height="33.8" fill="#fff" stroke="#555" stroke-width="1.2"/>
<circle cx="414.8" cy="432.4" r="2.8" fill="none" stroke="#2a2ac0" stroke-width="1.4"/>
<circle cx="414.8" cy="448.5" r="2.8" fill="none" stroke="#a43040" stroke-width="1.4"/>
<text x="429.1" y="436.9" font-size="13" fill="#222">room temp.</text>
<text x="429.1" y="453.2" font-size="13" fill="#222">37 °C</text>
<text x="267.9" y="407.6" font-size="25" fill="#111">g</text>
<text transform="translate(23.9,561.5) rotate(-90)" font-size="18" fill="#111">diameter, d (mm)</text>
<text x="217.5" y="607" font-size="17.2" fill="#111" textLength="140.2" lengthAdjust="spacingAndGlyphs">h(PCL)/h(AA-MA)</text>
</svg>
</body></html>
